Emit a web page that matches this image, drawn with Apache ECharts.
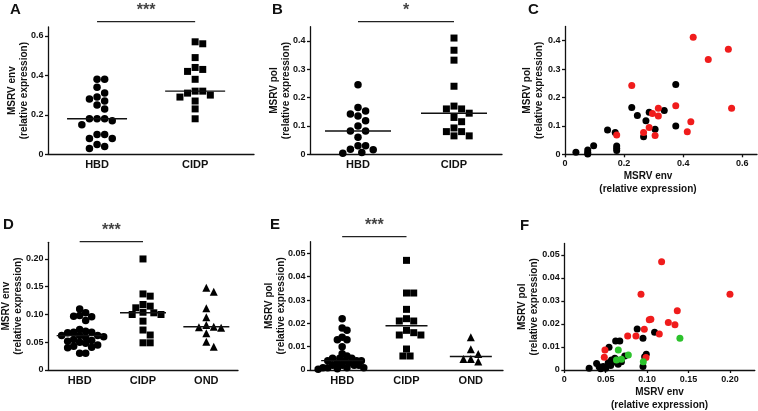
<!DOCTYPE html>
<html><head><meta charset="utf-8">
<script src="https://cdn.jsdelivr.net/npm/echarts@6/dist/echarts.min.js"></script>
<style>html,body{margin:0;padding:0;background:#fff}#c{width:758px;height:411px}</style>
</head><body><div id="c"></div>
<script>
// ---------------- DATA ----------------
const groupsTwo = ['HBD', 'CIDP'];
const groupsThree = ['HBD', 'CIDP', 'OND'];

// Panel A: MSRV env (relative expression)
const envA_HBD = [0.38, 0.38, 0.34, 0.31, 0.29, 0.28, 0.27, 0.25, 0.23, 0.18, 0.18, 0.18, 0.17, 0.15, 0.10, 0.10, 0.08, 0.08, 0.05, 0.04, 0.03];
const envA_CIDP = [0.57, 0.56, 0.49, 0.44, 0.43, 0.42, 0.38, 0.32, 0.32, 0.31, 0.30, 0.29, 0.27, 0.23, 0.18];
// Panel B: MSRV pol
const polB_HBD = [0.245, 0.165, 0.153, 0.142, 0.135, 0.118, 0.100, 0.082, 0.082, 0.060, 0.030, 0.030, 0.018, 0.016, 0.006, 0.004];
const polB_CIDP = [0.41, 0.367, 0.332, 0.24, 0.17, 0.16, 0.16, 0.145, 0.13, 0.115, 0.093, 0.08, 0.08, 0.065, 0.065];
// Panel C: env vs pol
const corrC_HBD = [[0.037,0.007],[0.077,0.006],[0.077,0.001],[0.077,0.015],[0.097,0.030],[0.144,0.086],[0.170,0.077],[0.175,0.021],[0.175,0.029],[0.175,0.013],[0.226,0.165],[0.245,0.137],[0.266,0.062],[0.274,0.118],[0.285,0.148],[0.305,0.088],[0.336,0.154],[0.375,0.246],[0.375,0.100]];
const corrC_CIDP = [[0.175,0.068],[0.226,0.242],[0.266,0.077],[0.285,0.094],[0.296,0.144],[0.305,0.066],[0.316,0.162],[0.316,0.135],[0.375,0.171],[0.414,0.079],[0.426,0.115],[0.434,0.412],[0.485,0.334],[0.553,0.370],[0.564,0.162]];
// Panel D: MSRV env
const envD_HBD = [0.110, 0.103, 0.098, 0.097, 0.096, 0.089, 0.073, 0.070, 0.068, 0.068, 0.067, 0.062, 0.062, 0.062, 0.060, 0.059, 0.055, 0.053, 0.052, 0.050, 0.048, 0.045, 0.043, 0.041, 0.040, 0.030, 0.030];
const envD_CIDP = [0.20, 0.137, 0.133, 0.118, 0.115, 0.112, 0.104, 0.103, 0.100, 0.100, 0.088, 0.072, 0.063, 0.049, 0.049];
const envD_OND = [0.148, 0.141, 0.111, 0.095, 0.081, 0.078, 0.077, 0.076, 0.066, 0.051, 0.042];
// Panel E: MSRV pol
const polE_HBD = [0.022, 0.018, 0.017, 0.014, 0.013, 0.013, 0.010, 0.007, 0.006, 0.005, 0.005, 0.005, 0.004, 0.004, 0.004, 0.004, 0.003, 0.003, 0.002, 0.002, 0.002, 0.002, 0.001, 0.001, 0.001, 0.001, 0.0005, 0.0003];
const polE_CIDP = [0.047, 0.033, 0.033, 0.026, 0.022, 0.021, 0.021, 0.017, 0.016, 0.015, 0.015, 0.009, 0.006, 0.006];
const polE_OND = [0.014, 0.0089, 0.0069, 0.0047, 0.0047, 0.0036];
// Panel F: env vs pol
const corrF_HBD = [[0.030,0.0008],[0.039,0.0028],[0.042,0.0014],[0.044,0.0005],[0.047,0.0015],[0.050,0.0008],[0.053,0.0032],[0.054,0.0099],[0.056,0.0020],[0.057,0.0043],[0.060,0.0035],[0.061,0.0051],[0.062,0.0126],[0.063,0.0045],[0.065,0.0025],[0.067,0.0126],[0.069,0.0036],[0.073,0.0061],[0.088,0.0178],[0.095,0.0138],[0.095,0.0015],[0.099,0.0068],[0.097,0.0058],[0.109,0.0164]];
const corrF_CIDP = [[0.1175,0.0471],[0.0926,0.0329],[0.200,0.0329],[0.1364,0.0258],[0.1026,0.0219],[0.1045,0.0221],[0.1256,0.0207],[0.1336,0.0197],[0.0966,0.0177],[0.0765,0.0148],[0.0865,0.0148],[0.1147,0.0157],[0.0491,0.0087],[0.0483,0.0055],[0.0986,0.0054]];
const corrF_OND = [[0.0652,0.0087],[0.0630,0.0043],[0.0690,0.0047],[0.0773,0.0065],[0.0954,0.0036],[0.1396,0.0138]];

// tick labels
const ticksA = [0, 0.2, 0.4, 0.6];
const ticksB = [0, 0.1, 0.2, 0.3, 0.4];
const ticksCx = [0, 0.2, 0.4, 0.6];
const ticksD = [0, 0.05, 0.10, 0.15, 0.20];
const ticksE = [0, 0.01, 0.02, 0.03, 0.04, 0.05];
const ticksFx = [0, 0.05, 0.10, 0.15, 0.20];

const sigA = '***', sigB = '*', sigD = '***', sigE = '***';
const envName = 'MSRV env\n(relative expression)';
const polName = 'MSRV pol\n(relative expression)';

// ---------------- STYLE / BUILD ----------------
const FONT = 'Liberation Sans';
const INK = '#111';
const RED = '#f01c1c';
const GREEN = '#2cc22c';
const option = { animation: false, grid: [], xAxis: [], yAxis: [], series: [], graphic: [] };

function median(a) {
  const s = a.slice().sort((x, y) => x - y);
  const n = s.length;
  return n % 2 ? s[(n - 1) / 2] : (s[n / 2 - 1] + s[n / 2]) / 2;
}
// simple beeswarm: spread points that would overlap
function swarm(vals, center, pxX, pxY, d) {
  const order = vals.map((v, i) => i).sort((a, b) => vals[b] - vals[a]);
  const placed = [], out = new Array(vals.length);
  order.forEach(i => {
    const py = vals[i] * pxY;
    let off = 0;
    for (let k = 0; k < 80; k++) {
      const cand = k === 0 ? 0 : (k % 2 ? 1 : -1) * Math.ceil(k / 2) * d * 0.5;
      if (placed.every(p => Math.hypot(p.x - cand, p.y - py) >= d)) { off = cand; break; }
    }
    placed.push({ x: off, y: py });
    out[i] = [center + off / pxX, vals[i]];
  });
  return out;
}
const labelStyle = { color: INK, fontFamily: FONT, fontWeight: 'bold', fontSize: 9 };
const nameStyle = { color: INK, fontFamily: FONT, fontWeight: 'bold', fontSize: 10, lineHeight: 11.5 };
const lineStyle = { color: INK, width: 1.3 };
function fmt(dec) { return v => (v === 0 ? '0' : v.toFixed(dec)); }

function addGrid(L) {
  const gi = option.grid.length;
  option.grid.push({ left: L.left, top: L.top, width: L.width, height: L.height, containLabel: false, outerBoundsMode: 'none' });
  return gi;
}
function yAxisFor(gi, L, ticks, dec, name) {
  return {
    gridIndex: gi, type: 'value', min: 0, max: L.yMax,
    axisLine: { show: true, onZero: false, lineStyle },
    axisTick: { show: true, customValues: ticks, length: 3, lineStyle },
    axisLabel: Object.assign({ customValues: ticks, formatter: fmt(dec), margin: 4.5 }, labelStyle),
    splitLine: { show: false },
    name, nameLocation: 'middle', nameGap: L.nameGap, nameMoveOverlap: false, nameTextStyle: nameStyle
  };
}

function columnPanel(L, cats, groups, symbols, sizes, ticks, dec, name, sig) {
  const gi = addGrid(L);
  option.xAxis.push({
    gridIndex: gi, type: 'value', min: L.xMin, max: L.xMax,
    axisLine: { show: true, onZero: false, lineStyle },
    axisTick: { show: false }, splitLine: { show: false },
    axisLabel: { customValues: cats.map((c, i) => i + 1), formatter: v => cats[Math.round(v) - 1],
      color: INK, fontFamily: FONT, fontWeight: 'bold', fontSize: 11, margin: 5 }
  });
  option.yAxis.push(yAxisFor(gi, L, ticks, dec, name));
  const pxX = L.width / (L.xMax - L.xMin), pxY = L.height / L.yMax;
  groups.forEach((vals, g) => {
    const c = g + 1;
    option.series.push({ type: 'scatter', xAxisIndex: gi, yAxisIndex: gi, silent: true,
      data: swarm(vals, c, pxX, pxY, L.spread[g]), symbol: symbols[g], symbolSize: sizes[g], itemStyle: { color: '#000', opacity: 1 } });
    const m = median(vals), hw = L.medHalf / pxX;
    option.series.push({ type: 'line', xAxisIndex: gi, yAxisIndex: gi, silent: true, symbol: 'none',
      data: [[c - hw, m], [c + hw, m]], lineStyle: { color: INK, width: 1.4 } });
  });
  const yb = L.yMax + L.sigLift / pxY;
  option.series.push({ type: 'line', xAxisIndex: gi, yAxisIndex: gi, silent: true, symbol: 'none', clip: false,
    data: [[1, yb], [2, yb]], lineStyle: { color: '#222', width: 1.3 } });
  option.series.push({ type: 'scatter', xAxisIndex: gi, yAxisIndex: gi, silent: true, clip: false,
    data: [[1.5, yb]], symbolSize: 0.1, itemStyle: { color: 'rgba(0,0,0,0)' },
    label: { show: true, position: 'top', distance: 3, formatter: sig, color: INK, fontFamily: FONT, fontWeight: 'bold', fontSize: 16 } });
}

function scatterPanel(L, sets, colors, xTicks, yTicks, xDec, yDec, xName, yName) {
  const gi = addGrid(L);
  option.xAxis.push({
    gridIndex: gi, type: 'value', min: 0, max: L.xMax,
    axisLine: { show: true, onZero: false, lineStyle },
    axisTick: { show: true, customValues: xTicks, length: 3, lineStyle },
    axisLabel: Object.assign({ customValues: xTicks, formatter: fmt(xDec), margin: 5 }, labelStyle),
    splitLine: { show: false },
    name: xName, nameLocation: 'middle', nameGap: L.xNameGap, nameMoveOverlap: false,
    nameTextStyle: Object.assign({}, nameStyle, { lineHeight: 13, padding: L.xNamePad })
  });
  option.yAxis.push(yAxisFor(gi, L, yTicks, yDec, yName));
  sets.forEach((pts, i) => {
    option.series.push({ type: 'scatter', xAxisIndex: gi, yAxisIndex: gi, silent: true,
      data: pts, symbol: 'circle', symbolSize: 7, itemStyle: { color: colors[i], opacity: 1 } });
  });
}

columnPanel({ left: 48, top: 27, width: 206, height: 127.3, xMin: 0.5, xMax: 2.6, yMax: 0.645, nameGap: 18.5, spread: [7.6, 7.6], medHalf: 30, sigLift: 5.3 },
  groupsTwo, [envA_HBD, envA_CIDP], ['circle', 'rect'], [7.5, 7], ticksA, 1, envName, sigA);
columnPanel({ left: 310, top: 26.7, width: 192, height: 127.6, xMin: 0.5, xMax: 2.5, yMax: 0.45, nameGap: 18.5, spread: [7.6, 7.6], medHalf: 33, sigLift: 5 },
  groupsTwo, [polB_HBD, polB_CIDP], ['circle', 'rect'], [7.5, 7], ticksB, 1, polName, sigB);
scatterPanel({ left: 565, top: 26.5, width: 192, height: 127.8, xMax: 0.65, yMax: 0.45, nameGap: 20.5, xNameGap: 15, xNamePad: [0, 26, 0, 0] },
  [corrC_HBD, corrC_CIDP], ['#000', RED], ticksCx, ticksB, 1, 1, envName, polName);
columnPanel({ left: 48, top: 242.3, width: 190, height: 127.7, xMin: 0.5, xMax: 3.5, yMax: 0.23, nameGap: 24.5, spread: [6, 7.2, 7.4], medHalf: 23, sigLift: 0.6 },
  groupsThree, [envD_HBD, envD_CIDP, envD_OND], ['circle', 'rect', 'triangle'], [7.5, 7, 8], ticksD, 2, envName, sigD);
columnPanel({ left: 310, top: 241.7, width: 193, height: 128.3, xMin: 0.5, xMax: 3.5, yMax: 0.055, nameGap: 23.5, spread: [4.8, 7.2, 7.4], medHalf: 21, sigLift: 5 },
  groupsThree, [polE_HBD, polE_CIDP, polE_OND], ['circle', 'rect', 'triangle'], [7.5, 7, 8], ticksE, 2, polName, sigE);
scatterPanel({ left: 564.3, top: 243.5, width: 190.5, height: 126.5, xMax: 0.23, yMax: 0.055, nameGap: 24.5, xNameGap: 16, xNamePad: 0 },
  [corrF_HBD, corrF_CIDP, corrF_OND], ['#000', RED, GREEN], ticksFx, ticksE, 2, 2, envName, polName);

// panel letters
[['A', 10, 2], ['B', 272, 2], ['C', 528, 2], ['D', 3, 217], ['E', 270, 217], ['F', 520, 218]].forEach(([t, x, y]) => {
  option.graphic.push({ type: 'text', left: x, top: y, silent: true,
    style: { text: t, fill: INK, font: 'bold 15px "Liberation Sans"' } });
});

const chart = echarts.init(document.getElementById('c'), null, { renderer: 'canvas' });
chart.setOption(option);
</script></body></html>
